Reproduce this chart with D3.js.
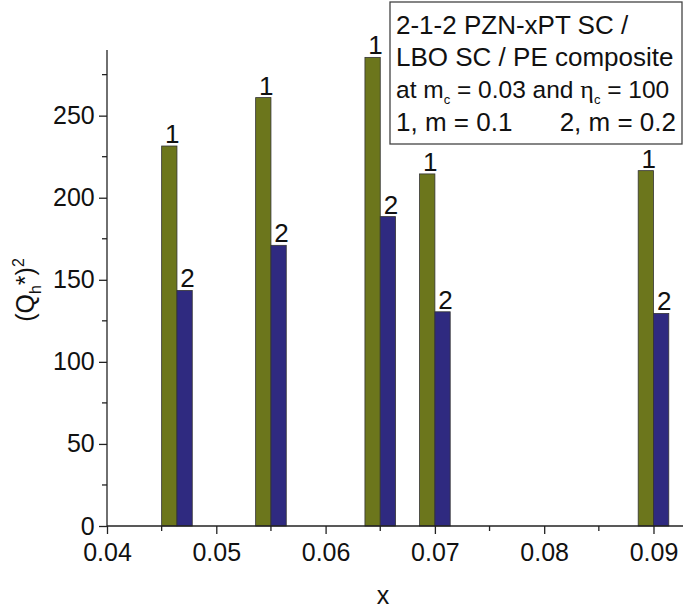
<!DOCTYPE html>
<html>
<head>
<meta charset="utf-8">
<script src="https://cdn.jsdelivr.net/npm/d3@7"></script>
<style>
  body { margin: 0; background: #fff; }
  text { font-family: "Liberation Sans", Arial, sans-serif; fill: #111; }
</style>
</head>
<body>
<svg id="chart" width="685" height="610"></svg>
<script>
// data
const xValues = [0.0464, 0.055, 0.065, 0.07, 0.09];
const series1 = [231.5, 261, 285.5, 214.5, 216.5];   // m = 0.1
const series2 = [143.5, 171, 188.5, 130.5, 129.5];   // m = 0.2
const xTicks = [0.04, 0.05, 0.06, 0.07, 0.08, 0.09];
const yTicks = [0, 50, 100, 150, 200, 250];

const svg = d3.select("#chart");
const plotLeft = 107, plotRight = 683, plotTop = 50, plotBottom = 526;

const x = d3.scaleLinear().domain([0.04, 0.0927]).range([plotLeft, plotRight]);
const y = d3.scaleLinear().domain([0, 290]).range([plotBottom, plotTop]);
const barW = x(0.0414) - x(0.04);

const colors = ["#6c761c", "#2f2a80"];

// bars
[series1, series2].forEach((vals, s) => {
    const g = svg.append("g");
    g.selectAll("rect")
        .data(vals)
        .enter().append("rect")
        .attr("x", (d, i) => s === 0 ? x(xValues[i]) - barW : x(xValues[i]))
        .attr("y", d => y(d))
        .attr("width", barW)
        .attr("height", d => y(0) - y(d))
        .attr("fill", colors[s])
        .attr("stroke", "#333")
        .attr("stroke-width", 0.8);

    g.selectAll("text")
        .data(vals)
        .enter().append("text")
        .attr("x", (d, i) => (s === 0 ? x(xValues[i]) - barW / 2 : x(xValues[i]) + barW / 2) + 3)
        .attr("y", d => y(d) - 3)
        .attr("text-anchor", "middle")
        .attr("font-size", 26)
        .text(s === 0 ? "1" : "2");
});

// axes
const xAxis = d3.axisBottom(x).tickValues(xTicks).tickFormat(d3.format(".2f"))
    .tickSize(8).tickSizeOuter(0);
const gx = svg.append("g").attr("transform", `translate(0,${plotBottom})`).call(xAxis);
gx.selectAll("text").attr("font-size", 25).attr("dy", "0.95em")
    .attr("font-family", "Liberation Sans, Arial, sans-serif").attr("fill", "#111");
gx.select(".domain").attr("d", `M${plotLeft},0H${plotRight}`).attr("stroke", "#222").attr("stroke-width", 1.3);
gx.selectAll(".tick line").attr("stroke", "#222").attr("stroke-width", 1.3);
svg.append("g").selectAll("line")
    .data(xTicks.map(t => t + 0.005))
    .enter().append("line")
    .attr("x1", d => x(d)).attr("x2", d => x(d))
    .attr("y1", plotBottom).attr("y2", plotBottom + 5)
    .attr("stroke", "#222").attr("stroke-width", 1.3);

const yAxis = d3.axisLeft(y).tickValues(yTicks).tickSize(8).tickSizeOuter(0);
const gy = svg.append("g").attr("transform", `translate(${plotLeft},0)`).call(yAxis);
gy.selectAll("text").attr("font-size", 25).attr("dx", "-0.05em")
    .attr("font-family", "Liberation Sans, Arial, sans-serif").attr("fill", "#111");
gy.select(".domain").attr("d", `M0,${plotBottom}V${plotTop}`).attr("stroke", "#222").attr("stroke-width", 1.3);
gy.selectAll(".tick line").attr("stroke", "#222").attr("stroke-width", 1.3);
svg.append("g").selectAll("line")
    .data(yTicks.map(t => t + 25))
    .enter().append("line")
    .attr("x1", plotLeft - 5).attr("x2", plotLeft)
    .attr("y1", d => y(d)).attr("y2", d => y(d))
    .attr("stroke", "#222").attr("stroke-width", 1.3);

// axis titles
svg.append("text")
    .attr("x", 383).attr("y", 604)
    .attr("text-anchor", "middle").attr("font-size", 25)
    .text("x");

const yl = svg.append("text")
    .attr("transform", "translate(34,290) rotate(-90)")
    .attr("text-anchor", "middle").attr("font-size", 25);
yl.append("tspan").text("(Q");
yl.append("tspan").attr("font-size", 16).attr("dy", 7).text("h");
yl.append("tspan").attr("dy", -7).text("*)");
yl.append("tspan").attr("font-size", 16).attr("dy", -10).text("2");

// legend box
svg.append("rect")
    .attr("x", 390).attr("y", 2).attr("width", 292).attr("height", 142)
    .attr("fill", "#fff").attr("stroke", "#444").attr("stroke-width", 1.3);

const lx = 396, fs = 26;
svg.append("text").attr("x", lx).attr("y", 34).attr("font-size", fs).text("2-1-2 PZN-xPT SC /");
svg.append("text").attr("x", lx).attr("y", 66).attr("font-size", fs).text("LBO SC / PE composite");
const l3 = svg.append("text").attr("x", lx).attr("y", 98).attr("font-size", 24.5);
l3.append("tspan").text("at m");
l3.append("tspan").attr("font-size", 13).attr("dy", 6).text("c");
l3.append("tspan").attr("dy", -6).text(" = 0.03 and ");
l3.append("tspan").attr("font-family", "Liberation Serif, serif").attr("font-size", 26).text("η");
l3.append("tspan").attr("font-size", 13).attr("dy", 6).text("c");
l3.append("tspan").attr("dy", -6).text(" = 100");
svg.append("text").attr("x", lx).attr("y", 131).attr("font-size", fs).text("1, m = 0.1");
svg.append("text").attr("x", 676).attr("y", 131).attr("font-size", fs)
    .attr("text-anchor", "end").text("2, m = 0.2");
</script>
</body>
</html>
